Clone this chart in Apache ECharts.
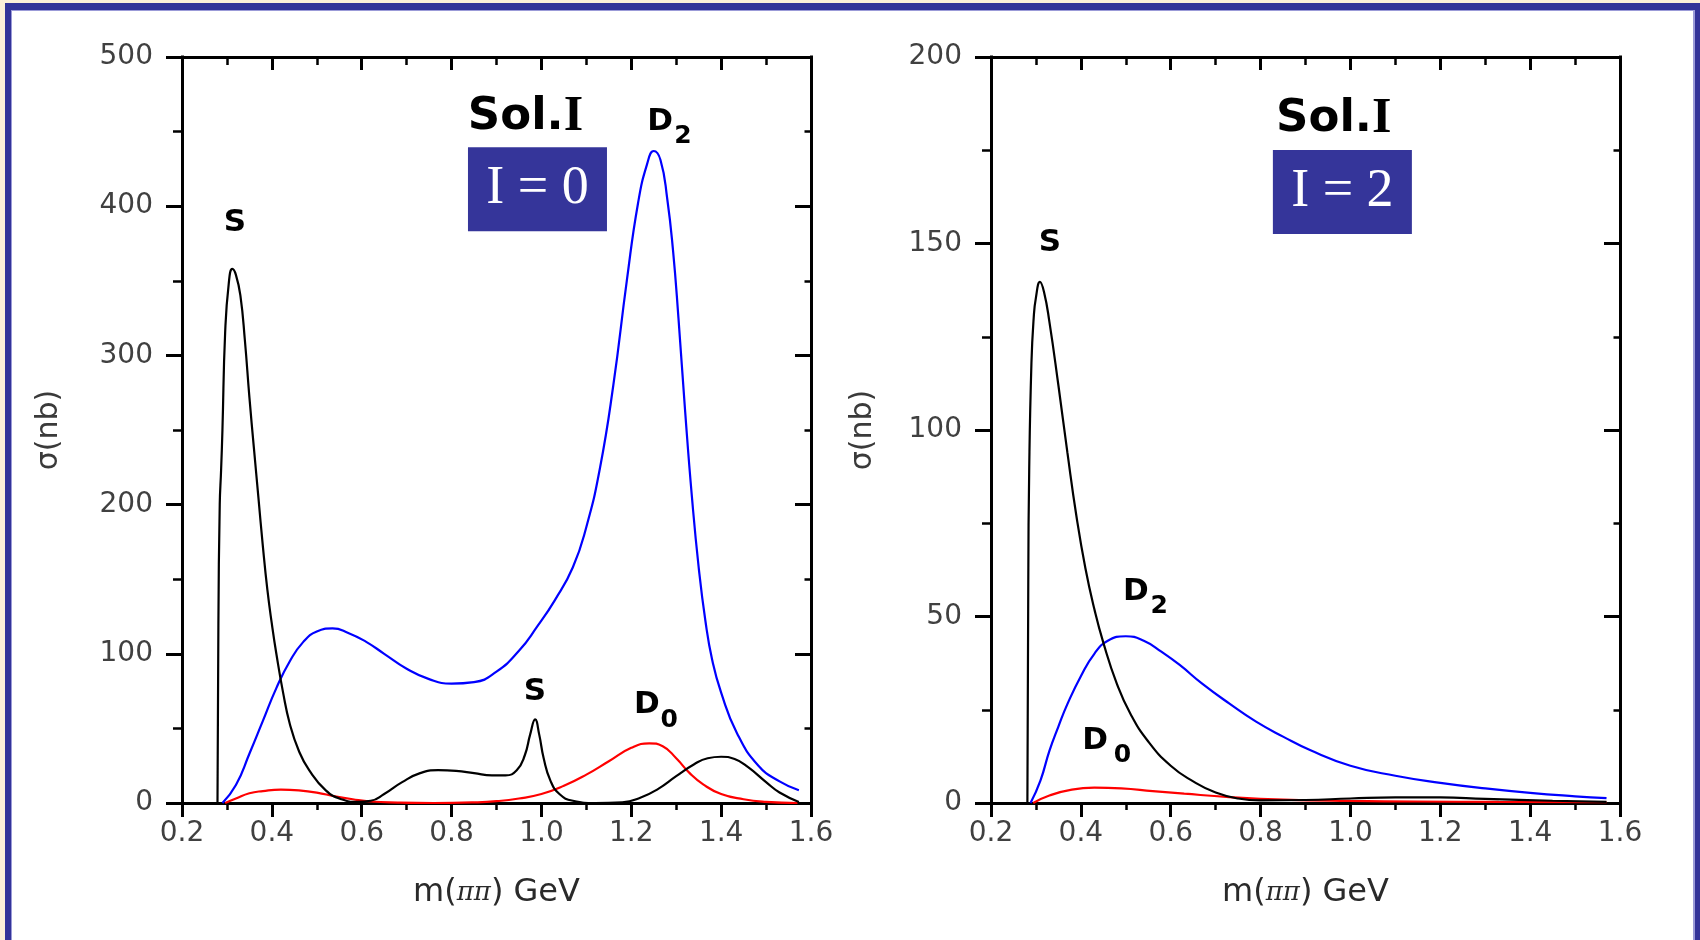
<!DOCTYPE html>
<html>
<head>
<meta charset="utf-8">
<script src="https://cdn.jsdelivr.net/npm/echarts@6/dist/echarts.min.js"></script>
<style>
  html, body { margin: 0; padding: 0; background: #fcefd9; }
  #chart { width: 1700px; height: 940px; }
</style>
</head>
<body>
<div id="chart"></div>
<script>
// Tick values: ππ invariant mass (GeV) and cross section (nb)
const massTicks = [0.2, 0.4, 0.6, 0.8, 1.0, 1.2, 1.4, 1.6];
const sigmaTicksI0 = [0, 100, 200, 300, 400, 500];
const sigmaTicksI2 = [0, 50, 100, 150, 200];

// Isospin I = 0 partial waves, [m(ππ), σ]
const waveS_I0 = [
  [0.279, 0], [0.281, 120], [0.284, 200], [0.287, 223], [0.29, 250], [0.296, 315], [0.304, 348],
  [0.312, 358], [0.32, 354], [0.33, 340], [0.34, 310], [0.35, 272], [0.36, 238], [0.37, 205],
  [0.38, 172], [0.39, 143], [0.40, 120], [0.41, 100], [0.425, 74], [0.44, 53], [0.46, 35],
  [0.483, 22], [0.52, 8.5], [0.555, 2.5], [0.59, 0.8], [0.62, 1.5], [0.65, 6], [0.69, 14],
  [0.73, 20], [0.77, 22], [0.81, 21.5], [0.85, 20], [0.89, 18.5], [0.92, 18.5], [0.945, 22],
  [0.963, 32], [0.975, 46], [0.986, 56], [0.995, 46], [1.005, 30], [1.02, 15], [1.04, 6],
  [1.07, 1.5], [1.12, 0], [1.18, 0.5], [1.22, 3.5], [1.26, 9.5], [1.30, 18], [1.34, 26],
  [1.37, 30], [1.40, 31], [1.43, 29.5], [1.46, 24], [1.50, 14], [1.53, 7], [1.573, 0.7]
];
const waveD0_I0 = [
  [0.296, 0], [0.32, 3], [0.35, 6.5], [0.38, 8], [0.42, 9], [0.46, 8.5], [0.50, 7], [0.54, 4.5],
  [0.58, 2.5], [0.62, 1], [0.68, 0.3], [0.76, 0], [0.85, 0.4], [0.90, 1.2], [0.95, 3], [1.0, 6],
  [1.05, 11.5], [1.10, 19], [1.15, 28], [1.20, 37], [1.24, 40], [1.27, 38], [1.30, 30],
  [1.33, 20], [1.36, 12.5], [1.40, 6], [1.45, 2.5], [1.50, 0.8], [1.57, 0]
];
const waveD2_I0 = [
  [0.29, 0], [0.32, 12], [0.35, 33], [0.38, 55], [0.41, 77], [0.44, 95], [0.47, 108], [0.50, 115],
  [0.535, 117], [0.57, 114], [0.61, 108], [0.65, 100], [0.70, 90], [0.75, 83], [0.80, 80],
  [0.85, 81], [0.90, 88], [0.95, 102], [0.99, 118], [1.03, 136], [1.07, 158], [1.10, 185],
  [1.13, 224], [1.16, 280], [1.19, 350], [1.215, 402], [1.235, 428], [1.25, 437], [1.265, 431],
  [1.28, 405], [1.293, 370], [1.305, 325], [1.32, 262], [1.335, 205], [1.35, 158], [1.365, 122],
  [1.38, 96], [1.40, 74], [1.435, 47], [1.483, 25], [1.53, 14.5], [1.573, 8.5]
];

// Isospin I = 2 partial waves, [m(ππ), σ]
const waveS_I2 = [
  [0.281, 0], [0.283, 60], [0.285, 89], [0.29, 118], [0.295, 130], [0.30, 135.5], [0.309, 139.7],
  [0.318, 137], [0.33, 129], [0.35, 112], [0.37, 94], [0.39, 77], [0.41, 63], [0.43, 52],
  [0.45, 43], [0.48, 32], [0.51, 24], [0.55, 16.5], [0.60, 10], [0.65, 5.8], [0.70, 2.8],
  [0.75, 1.2], [0.80, 0.7], [0.9, 0.8], [1.0, 1.2], [1.1, 1.5], [1.2, 1.5], [1.3, 1.1],
  [1.45, 0.6], [1.57, 0.3]
];
const waveD0_I2 = [
  [0.294, 0], [0.33, 2], [0.38, 3.6], [0.43, 4.1], [0.49, 3.9], [0.56, 3.2], [0.63, 2.5],
  [0.73, 1.6], [0.85, 0.9], [1.0, 0.55], [1.15, 0.4], [1.33, 0.3], [1.57, 0.2]
];
const waveD2_I2 = [
  [0.288, 0], [0.31, 6], [0.33, 14], [0.35, 20.5], [0.37, 26.5], [0.40, 34], [0.43, 40],
  [0.46, 43.5], [0.50, 44.7], [0.54, 43.5], [0.58, 40.5], [0.62, 37], [0.67, 32], [0.73, 26.7],
  [0.79, 21.8], [0.85, 17.8], [0.91, 14.2], [1.0, 10], [1.1, 7.3], [1.2, 5.4], [1.3, 3.9],
  [1.4, 2.7], [1.5, 1.8], [1.57, 1.3]
];

// Text placed in data coordinates of each panel
const notesI0 = [
  { at: [0.318, 388.9], text: 'S', kind: 'mark' },
  { at: [0.9857, 74.7], text: 'S', kind: 'mark' },
  { at: [1.2639, 456.6], text: 'D', kind: 'mark' },
  { at: [1.315, 446.9], text: '2', kind: 'sub' },
  { at: [1.2349, 65.7], text: 'D', kind: 'mark' },
  { at: [1.2846, 55.6], text: '0', kind: 'sub' },
  { at: [0.9645, 459.9], text: '{a|Sol.}{b|I}', kind: 'title' },
  { at: [0.9912, 411.4], text: 'I = 0', kind: 'box' }
];
const notesI2 = [
  { at: [0.3309, 150.2], text: 'S', kind: 'mark' },
  { at: [0.5227, 56.7], text: 'D', kind: 'mark' },
  { at: [0.5744, 52.6], text: '2', kind: 'sub' },
  { at: [0.4315, 16.75], text: 'D', kind: 'mark' },
  { at: [0.4925, 12.7], text: '0', kind: 'sub' },
  { at: [0.9628, 183.3], text: '{a|Sol.}{b|I}', kind: 'title' },
  { at: [0.9821, 163.8], text: 'I = 2', kind: 'box' }
];

const SANS = 'DejaVu Sans';
const AXIS_W = 3;

const labelStyles = {
  mark: { fontFamily: SANS, fontWeight: 'bold', fontSize: 31, color: '#000' },
  sub: { fontFamily: SANS, fontWeight: 'bold', fontSize: 25, color: '#000' },
  title: {
    rich: {
      a: { fontFamily: SANS, fontWeight: 'bold', fontSize: 45, color: '#000' },
      b: { fontFamily: 'Liberation Serif', fontWeight: 'bold', fontSize: 50, color: '#000' }
    }
  },
  box: {
    fontFamily: 'Liberation Serif', fontSize: 54, color: '#fff',
    backgroundColor: '#35359a', width: 139, height: 84, lineHeight: 84, padding: 0
  }
};

function noteSeries(notes, idx) {
  return {
    type: 'scatter', xAxisIndex: idx * 2, yAxisIndex: idx * 2, z: 5,
    symbolSize: 1, itemStyle: { color: 'rgba(0,0,0,0)', opacity: 1 }, silent: true,
    data: notes.map(n => ({
      value: n.at,
      label: Object.assign({
        show: true, position: 'inside', align: 'center', verticalAlign: 'middle',
        opacity: 1, formatter: n.text
      }, labelStyles[n.kind])
    }))
  };
}

function curve(data, color, idx) {
  return {
    type: 'line', data, xAxisIndex: idx * 2, yAxisIndex: idx * 2,
    showSymbol: false, smooth: 0.5,
    lineStyle: { color, width: 2.2 }, z: 3
  };
}

function xAxes(gridIndex) {
  const base = {
    type: 'value', gridIndex,
    min: massTicks[0], max: massTicks[massTicks.length - 1],
    interval: massTicks[1] - massTicks[0],
    splitLine: { show: false },
    axisLine: { show: true, onZero: false, lineStyle: { color: '#000', width: AXIS_W, cap: 'square' } }
  };
  return [
    Object.assign({}, base, {
      position: 'bottom',
      axisTick: { show: true, length: 14, lineStyle: { color: '#000', width: 3 } },
      minorTick: { show: true, splitNumber: 2, length: 7, lineStyle: { color: '#000', width: 2.5 } },
      axisLabel: {
        show: true, margin: 17, fontFamily: SANS, fontSize: 28, color: '#404040',
        formatter: v => v.toFixed(1)
      },
      name: '{a|m(}{p|ππ}{a|) GeV}', nameLocation: 'middle', nameGap: 74,
      nameTextStyle: {
        rich: {
          a: { fontFamily: SANS, fontSize: 32, color: '#2a2a2a' },
          p: { fontFamily: 'DejaVu Serif', fontStyle: 'italic', fontSize: 26, color: '#2a2a2a' }
        }
      }
    }),
    Object.assign({}, base, {
      position: 'top',
      axisTick: { show: true, inside: true, length: 13, lineStyle: { color: '#000', width: 3 } },
      minorTick: { show: true, splitNumber: 2, length: 8, lineStyle: { color: '#000', width: 2.5 } },
      axisLabel: { show: false }
    })
  ];
}

function yAxes(gridIndex, ticks, gap) {
  const base = {
    type: 'value', gridIndex,
    min: ticks[0], max: ticks[ticks.length - 1], interval: ticks[1] - ticks[0],
    splitLine: { show: false },
    axisLine: { show: true, onZero: false, lineStyle: { color: '#000', width: AXIS_W, cap: 'square' } }
  };
  return [
    Object.assign({}, base, {
      position: 'left',
      axisTick: { show: true, length: 16, lineStyle: { color: '#000', width: 3 } },
      minorTick: { show: true, splitNumber: 2, length: 9, lineStyle: { color: '#000', width: 2.5 } },
      axisLabel: { show: true, margin: 29, fontFamily: SANS, fontSize: 28, color: '#404040' },
      name: 'σ(nb)', nameLocation: 'middle', nameGap: gap,
      nameTextStyle: { fontFamily: SANS, fontSize: 30, color: '#3a3a3a' }
    }),
    Object.assign({}, base, {
      position: 'right',
      axisTick: { show: true, inside: true, length: 16, lineStyle: { color: '#000', width: 3 } },
      minorTick: { show: true, splitNumber: 2, length: 6.5, lineStyle: { color: '#000', width: 2.5 } },
      axisLabel: { show: false }
    })
  ];
}

const chart = echarts.init(document.getElementById('chart'), null, { renderer: 'canvas' });

chart.setOption({
  backgroundColor: '#fcefd9',
  animation: false,
  graphic: [
    { type: 'rect', z: -10, shape: { x: 5, y: 3, width: 1700, height: 940 }, style: { fill: '#333399' } },
    { type: 'rect', z: -9, shape: { x: 11, y: 10, width: 1684, height: 940 }, style: { fill: '#9b9bd8' } },
    { type: 'rect', z: -8, shape: { x: 12, y: 11, width: 1681, height: 940 }, style: { fill: '#ffffff' } }
  ],
  grid: [
    { left: 182, top: 57, width: 629, height: 746 },
    { left: 991, top: 57, width: 629, height: 746 }
  ],
  xAxis: [...xAxes(0), ...xAxes(1)],
  yAxis: [...yAxes(0, sigmaTicksI0, 118), ...yAxes(1, sigmaTicksI2, 113)],
  series: [
    curve(waveD0_I0, '#ff0000', 0),
    curve(waveD2_I0, '#0000ff', 0),
    curve(waveS_I0, '#000000', 0),
    curve(waveD0_I2, '#ff0000', 1),
    curve(waveD2_I2, '#0000ff', 1),
    curve(waveS_I2, '#000000', 1),
    noteSeries(notesI0, 0),
    noteSeries(notesI2, 1)
  ]
});
</script>
</body>
</html>
